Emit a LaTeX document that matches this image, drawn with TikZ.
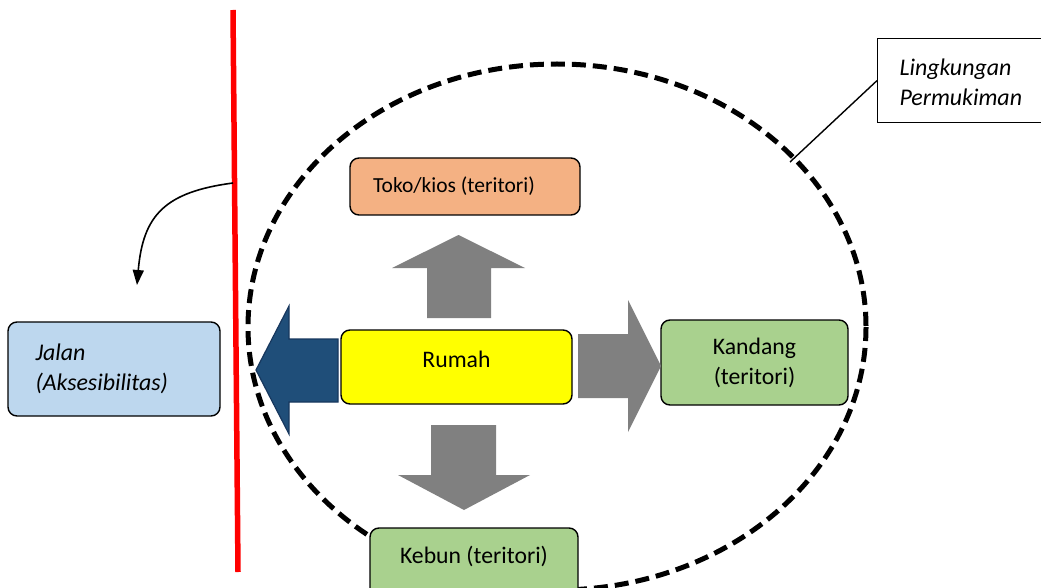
\documentclass[tikz,border=0pt]{standalone}
\usepackage{fontspec}
\setmainfont{Carlito}
\usetikzlibrary{arrows.meta}
\definecolor{salmon}{HTML}{F4B183}
\definecolor{leaf}{HTML}{A9D18E}
\definecolor{sky}{HTML}{BDD7EE}
\definecolor{navy}{HTML}{1F4E79}
\definecolor{navyedge}{HTML}{17375E}
\definecolor{arrgray}{HTML}{808080}
\definecolor{pureyellow}{HTML}{FFFF00}
\definecolor{purered}{HTML}{FF0000}
\tikzset{
  txt/.style={font=\fontsize{23.7}{30}\selectfont},
  itxt/.style={font=\fontsize{23.9}{30}\selectfont\itshape},
  box/.style={draw=black, line width=1.4pt, rounded corners=9pt, align=center, inner sep=0pt, txt},
  blockarrow/.style={fill=arrgray, draw=none},
}
\begin{document}
\begin{tikzpicture}[x=1pt,y=-1pt]
\useasboundingbox (0,0) rectangle (1041,588);
% dashed ellipse
\draw[line width=5pt, dash pattern=on 14pt off 7pt] (557,327) ellipse [x radius=309, y radius=263];
% red line
\draw[purered, line width=5.5pt] (233,10) -- (238,572);
\coordinate (roadpt) at (233,183);
\coordinate (arrowend) at (137,285);
\draw[line width=1.6pt, -{Triangle[width=11pt,length=15pt]}] (roadpt) .. controls (165,192) and (143,215) .. (arrowend);
% callout
\node[draw=black, line width=1.2pt, minimum width=175pt, minimum height=84pt, anchor=north west, inner sep=0pt] (callout) at (877,38) {};
\node[anchor=west, align=left, itxt] (callouttext) at (896,82) {Lingkungan\\Permukiman};
\coordinate (ellpt) at (790,162);
\draw[line width=1.4pt] (callout.west) -- (ellpt);
% boxes
\node[box, fill=salmon, minimum width=230pt, minimum height=57pt, font=\fontsize{21.5}{30}\selectfont] (toko) at (465,186.5) {Toko/kios (teritori)\hspace*{22pt}};
\node[box, fill=pureyellow, minimum width=231pt, minimum height=74pt, text depth=15pt] (rumah) at (456.5,367) {Rumah};
\node[box, fill=leaf, minimum width=187pt, minimum height=85pt] (kandang) at (754.5,362.5) {Kandang\\(teritori)};
\node[box, fill=leaf, minimum width=208pt, minimum height=72pt] (kebun) at (474,564) {};
\node[txt] (kebuntext) at (474,556) {Kebun (teritori)};
\node[box, fill=sky, minimum width=212pt, minimum height=94pt] (jalan) at (114,369) {};
\node[anchor=west, align=left, itxt] (jalantext) at (32,369) {Jalan\\(Aksesibilitas)};
% block arrows
\fill[blockarrow] (427,318) -- (427,268) -- (392,268) -- (458.5,235) -- (525,268) -- (491,268) -- (491,318) -- cycle;
\fill[blockarrow] (578,334) -- (628,334) -- (628,300) -- (661,366) -- (628,432) -- (628,398) -- (578,398) -- cycle;
\fill[blockarrow] (431,425) -- (496,425) -- (496,475) -- (530,475) -- (464,510) -- (398,475) -- (431,475) -- cycle;
\filldraw[fill=navy, draw=navyedge, line width=1.2pt] (338,339) -- (289,339) -- (289,306) -- (256,370) -- (289,434) -- (289,402) -- (338,402) -- cycle;
\end{tikzpicture}
\end{document}
